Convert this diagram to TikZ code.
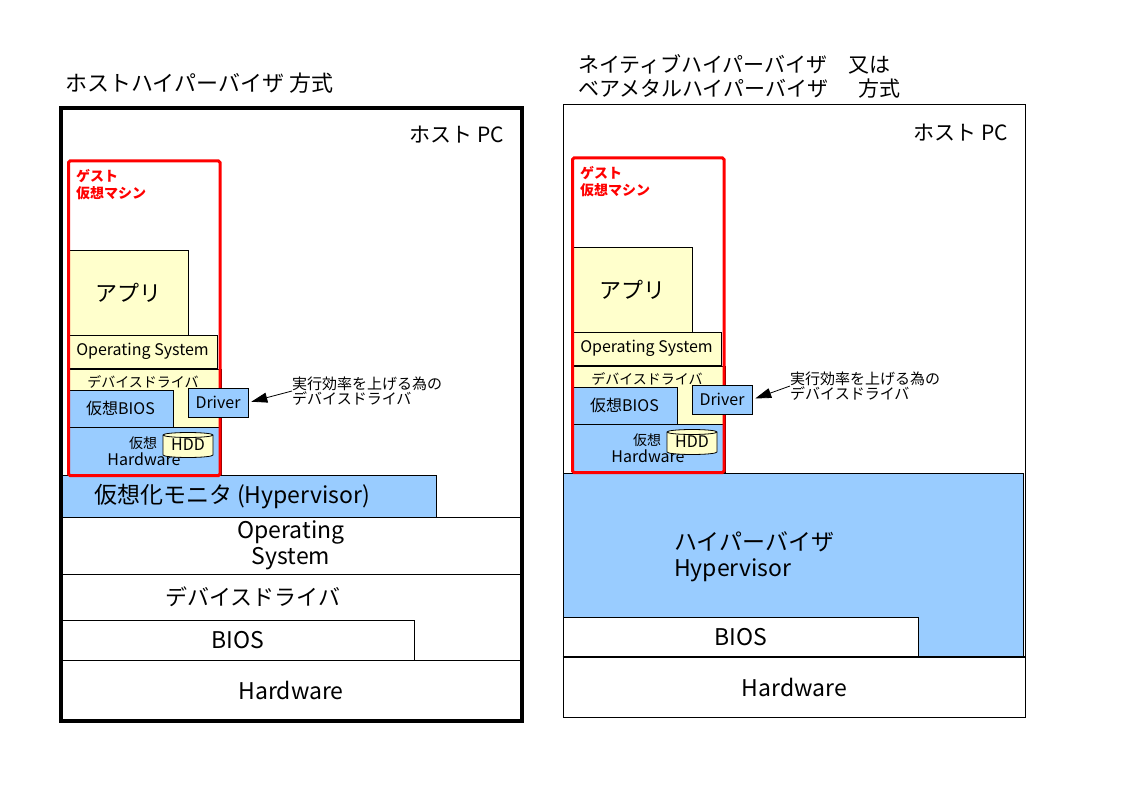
\documentclass[tikz,border=0pt]{standalone}
\usepackage{fontspec}
\setmainfont{Noto Sans CJK JP}
\usetikzlibrary{arrows.meta}
\definecolor{appyellow}{HTML}{FFFFCC}
\definecolor{hvblue}{HTML}{99CCFF}
\tikzset{
  box/.style={draw, line width=0.8pt, inner sep=0pt},
  yel/.style={box, fill=appyellow},
  blu/.style={box, fill=hvblue},
  big/.style={font=\fontsize{23}{26}\selectfont},
  mid/.style={font=\fontsize{16}{16}\selectfont},
  kana/.style={font=\fontsize{14}{15}\selectfont},
  ptr/.style={-{Triangle[length=16pt,width=10pt]}, line width=0.8pt, shorten >=3pt},
}
\begin{document}
\begin{tikzpicture}[x=1pt, y=-1pt, every node/.style={inner sep=0pt}]
	\useasboundingbox (0,0) rectangle (1123,794);
	%%titles
	\node[anchor=west, font=\fontsize{22}{24}\selectfont] (ttlhost) at (65,83) {ホストハイパーバイザ 方式};
	\node[anchor=west, align=left, font=\fontsize{21}{23.5}\selectfont] (ttlnat) at (578,76.5) {ネイティブハイパーバイザ　又は\\ベアメタルハイパーバイザ　\hspace{9pt}方式};
	
	%%left: host pc layers
	\draw[blu] (61,475) rectangle (436,517);
	\node[big] (hvltxt) at (232,497) {仮想化モニタ (Hypervisor)};
	\node[box, minimum width=460, minimum height=57, big, align=center] (hosl) at (291,545.5) {Operating\\System};
	\draw[box] (61,574) rectangle (521,660);
	\node[font=\fontsize{22}{24}\selectfont] (ddl) at (253,597) {デバイスドライバ};
	\node[box, minimum width=353, minimum height=40, big] (biosl) at (237.5,640) {BIOS};
	\node[box, minimum width=460, minimum height=60, big] (hwl) at (291,690) {Hardware};
	\draw[line width=1.6pt] (hosl.south west) -- (hosl.south east);
	\draw[line width=4pt] (60.5,108.5) rectangle (521.5,720.5);
	\node[anchor=east, font=\fontsize{21}{24}\selectfont] (pcl) at (504,135) {ホスト PC};
	
	%%right: host pc layers
	\draw[box] (563,104.5) rectangle (1025.5,717);
	\node[anchor=east, font=\fontsize{21}{24}\selectfont] (pcr) at (1008,133) {ホスト PC};
	\draw[blu] (563,473) rectangle (1023,657);
	\node[big, anchor=west, align=left] (hvr) at (674,556.5) {ハイパーバイザ\\Hypervisor};
	\node[box, fill=white, minimum width=355, minimum height=40, big] (biosr) at (740.5,637) {BIOS};
	\node[box, minimum width=462.5, minimum height=60, big] (hwr) at (794.25,687) {Hardware};
	\draw[line width=1.6pt] (hwr.north west) -- (hwr.north east);
	
	%guest vm, both sides%
	\foreach \s/\dx/\dy/\nx/\ny in {l/0/0/292/391, r/504/-3/790/386}{
		\begin{scope}[shift={(\dx,\dy)}]
			\node[yel, minimum width=120, minimum height=85, font=\fontsize{22}{24}\selectfont] (app\s) at (128,292.5) {アプリ};
			\node[yel, minimum width=149, minimum height=33, mid] (gos\s) at (142.5,351.5) {Operating System};
			\draw[yel] (69,369) rectangle (221,427);
			\node[kana] (gdd\s) at (143,382) {デバイスドライバ};
			\draw[blu] (68,427) rectangle (221,475);
			\node[kana] (gvh\s) at (143,443) {仮想};
			\node[mid] (ghw\s) at (144,459) {Hardware};
			\draw[yel] (163,435) -- (163,455) arc[start angle=180, end angle=0, x radius=25, y radius=2.5] -- (213,435) arc[start angle=0, end angle=-180, x radius=25, y radius=2.5] -- cycle;
			\draw[box] (163,435) arc[start angle=180, end angle=0, x radius=25, y radius=2.5];
			\node[mid] (hdd\s) at (188,445) {HDD};
			\node[blu, minimum width=105, minimum height=37, mid] (gbios\s) at (120.5,408.5) {仮想BIOS};
			\draw[red, line width=3pt, rounded corners=1.5pt] (68.5,161) rectangle (220,475.5);
			\node[anchor=west, align=left, text=red, font=\bfseries\fontsize{14}{17}\selectfont] (gst\s) at (76,184.5) {ゲスト\\仮想マシン};
			\node[blu, minimum width=60, minimum height=29, mid] (drv\s) at (218,402.5) {Driver};
		\end{scope}
		\node[anchor=west, align=left, font=\fontsize{15}{15.5}\selectfont] (note\s) at (\nx,\ny) {実行効率を上げる為の\\デバイスドライバ};
		\draw[ptr] (note\s.west) -- (drv\s.east);
	}
\end{tikzpicture}
\end{document}
